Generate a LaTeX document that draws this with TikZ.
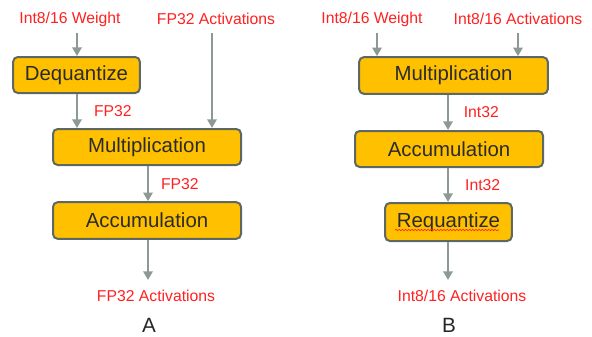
\documentclass[tikz,border=0pt]{standalone}
\usepackage{fontspec}
\setmainfont{Liberation Sans}
\usepackage{tikz}
\usetikzlibrary{positioning,arrows.meta,decorations.pathmorphing}
\definecolor{opfill}{HTML}{FFC000}
\definecolor{opdraw}{HTML}{5E6863}
\definecolor{optext}{HTML}{2B2B2B}
\definecolor{flowgray}{HTML}{8C9A93}
\definecolor{tagred}{HTML}{FF2020}
\tikzset{
    quantop/.style={draw=opdraw, line width=1.5pt, rounded corners=3.5pt, fill=opfill, text=optext, align=center, inner sep=0pt, font=\fontsize{15.3}{18}\selectfont},
    quanttag/.style={text=tagred, inner sep=0pt, font=\fontsize{11.8}{13}\selectfont},
    quantflow/.style={draw=flowgray, line width=1.7pt, -{Triangle[length=6.5pt, width=7pt]}},
    quantcap/.style={inner sep=0pt, text=black!85, font=\fontsize{15.5}{18}\selectfont},
    squiggle/.style={draw=tagred, line width=0.45pt, decorate, decoration={snake, amplitude=0.5pt, segment length=2.4pt}}
}

\begin{document}
\begin{tikzpicture}[x=0.75pt, y=-0.75pt]
    \useasboundingbox (0,0) rectangle (592,336);
    % A: dequantize first, FP32 math
    \node[quanttag] (wA) at (70,19) {Int8/16 Weight};
    \node[quanttag] (actA) at (216,19) {FP32 Activations};
    \node[quantop, minimum width=95pt, minimum height=27pt] (deq) at (76.5,75) {Dequantize};
    \node[quantop, minimum width=141pt, minimum height=27pt] (mulA) at (147,147) {Multiplication};
    \node[quantop, minimum width=141pt, minimum height=27.5pt] (accA) at (147,220.5) {Accumulation};
    \node[quanttag] (outA) at (156,296) {FP32 Activations};
    \node[quantcap] (capA) at (149,325) {A};
    \coordinate (wAin) at (77,33);
    \coordinate (actAin) at (212,33);
    \coordinate (outAend) at (148,280);
    \draw[quantflow] (wAin) -- (wAin |- deq.north);
    \draw[quantflow] (wAin |- deq.south) -- node[quanttag, right=12pt] {FP32} (wAin |- mulA.north);
    \draw[quantflow] (actAin) -- (actAin |- mulA.north);
    \draw[quantflow] (outAend |- mulA.south) -- node[quanttag, right=9pt] {FP32} (outAend |- accA.north);
    \draw[quantflow] (outAend |- accA.south) -- (outAend);

    % B: integer math, requantize at the end
    \node[quanttag] (wB) at (372,19) {Int8/16 Weight};
    \node[quanttag] (actB) at (518,19) {Int8/16 Activations};
    \node[quantop, minimum width=141.5pt, minimum height=27.5pt] (mulB) at (453.5,75.5) {Multiplication};
    \node[quantop, minimum width=141pt, minimum height=27pt] (accB) at (449,149) {Accumulation};
    \node[quantop, minimum width=95pt, minimum height=28.5pt] (req) at (448.5,222) {Requantize};
    \node[quanttag] (outB) at (462,296) {Int8/16 Activations};
    \node[quantcap] (capB) at (449,325) {B};
    \coordinate (wBin) at (377,33);
    \coordinate (actBin) at (518,33);
    \coordinate (outBend) at (448,280);
    \draw[quantflow] (wBin) -- (wBin |- mulB.north);
    \draw[quantflow] (actBin) -- (actBin |- mulB.north);
    \draw[quantflow] (outBend |- mulB.south) -- node[quanttag, right=11pt] {Int32} (outBend |- accB.north);
    \draw[quantflow] (outBend |- accB.south) -- node[quanttag, right=12pt] {Int32} (outBend |- req.north);
    \draw[quantflow] (outBend |- req.south) -- (outBend);
    \draw[squiggle] (395,230) -- (499,230);
\end{tikzpicture}
\end{document}
